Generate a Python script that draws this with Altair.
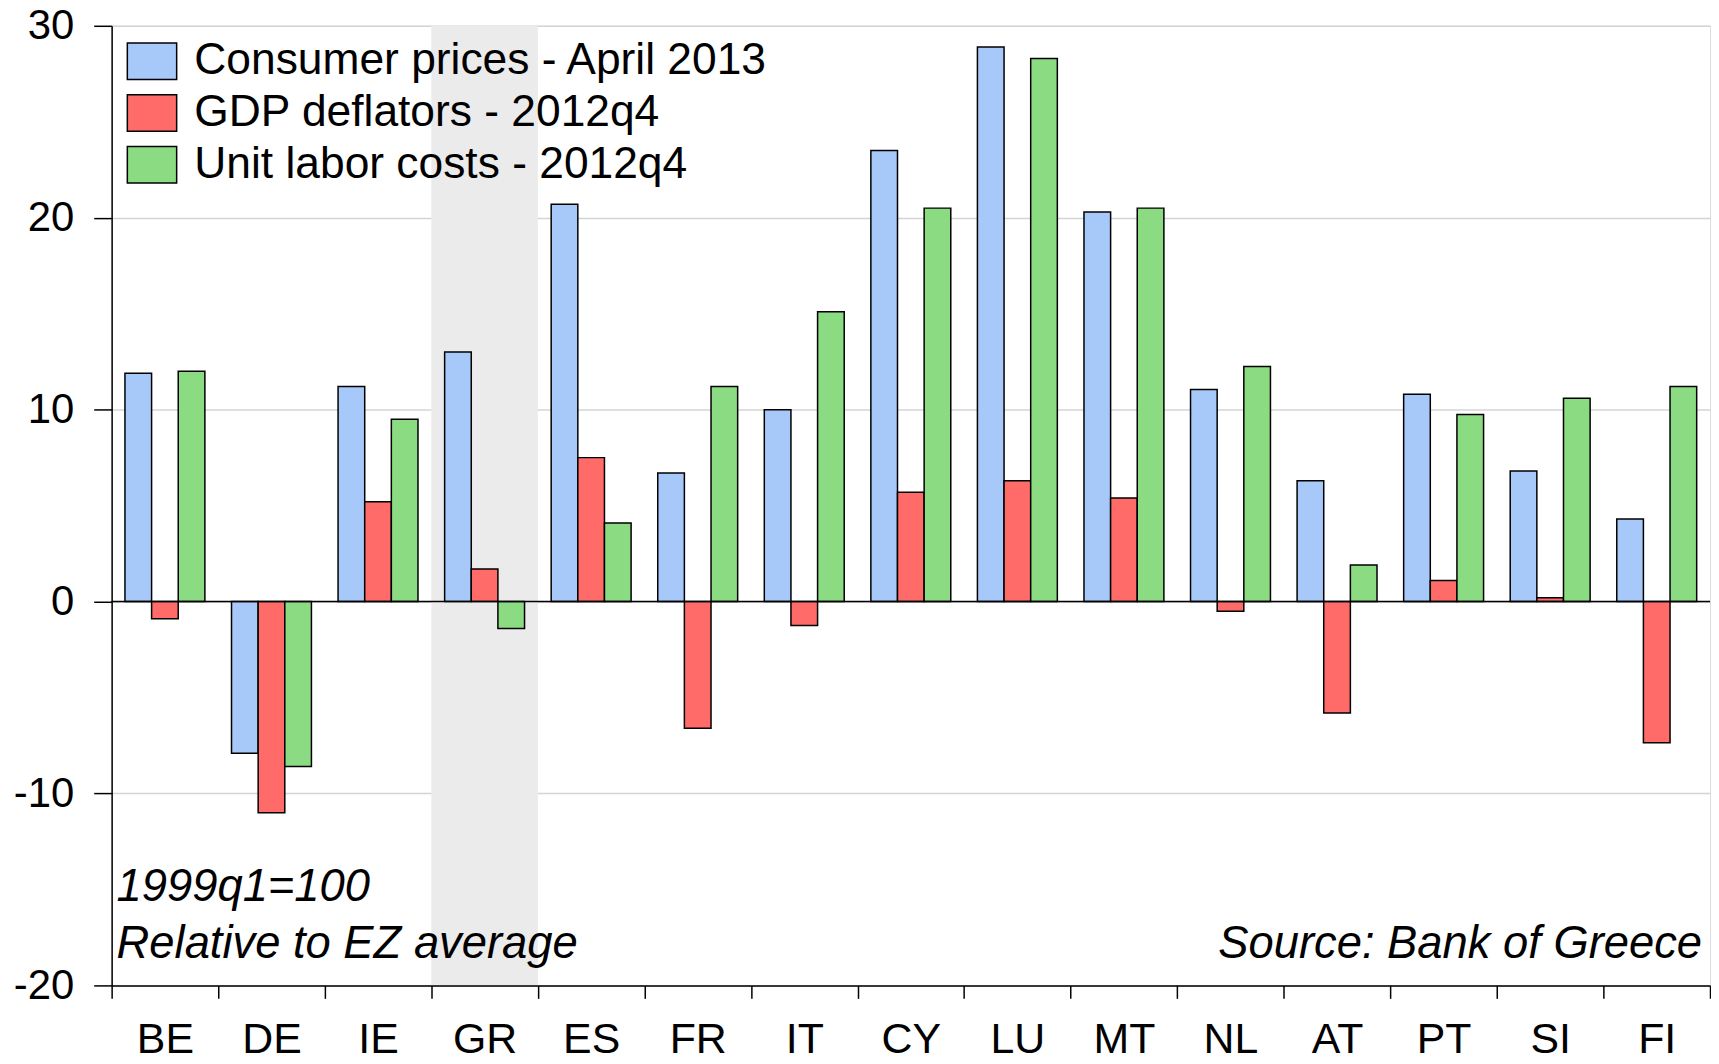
import altair as alt
import pandas as pd

countries = ["BE", "DE", "IE", "GR", "ES", "FR", "IT", "CY", "LU", "MT", "NL", "AT", "PT", "SI", "FI"]
series_names = ["Consumer prices - April 2013", "GDP deflators - 2012q4", "Unit labor costs - 2012q4"]
consumer_prices = [11.9, -7.9, 11.2, 13.0, 20.7, 6.7, 10.0, 23.5, 28.9, 20.3, 11.05, 6.3, 10.8, 6.8, 4.3]
gdp_deflators = [-0.9, -11.0, 5.2, 1.7, 7.5, -6.6, -1.25, 5.7, 6.3, 5.4, -0.5, -5.8, 1.1, 0.2, -7.35]
unit_labor_costs = [12.0, -8.6, 9.5, -1.4, 4.1, 11.2, 15.1, 20.5, 28.3, 20.5, 12.25, 1.9, 9.75, 10.6, 11.2]
colors = ["#A6C9F9", "#FF6B68", "#8ADB82"]
y_ticks = [-20, -10, 0, 10, 20, 30]

rows = []
for name, vals in zip(series_names, [consumer_prices, gdp_deflators, unit_labor_costs]):
    for c, v in zip(countries, vals):
        rows.append({"country": c, "series": name, "value": v})
df = pd.DataFrame(rows)

shade_df = pd.DataFrame({"country": ["GR"], "top": [30], "bottom": [-20]})
notes_left = pd.DataFrame({"country": ["BE", "BE"], "y": [-14.9, -17.85],
                           "label": ["1999q1=100", "Relative to EZ average"]})
notes_right = pd.DataFrame({"country": ["FI"], "y": [-17.85], "label": ["Source: Bank of Greece"]})

FONT = "Liberation Sans"

x_scale = alt.Scale(domain=countries, paddingInner=0, paddingOuter=0)
y_scale = alt.Scale(domain=[-20, 30], nice=False, zero=False)

x_axis = alt.Axis(title=None, tickBand="extent", labelAngle=0, labelFontSize=43, labelFont=FONT,
                  labelColor="#000000", tickColor="#000000", tickSize=13, tickWidth=1.5,
                  domainColor="#000000", domainWidth=1.5, labelPadding=20, grid=False)
y_axis = alt.Axis(title=None, values=y_ticks, labelExpr="toString(datum.value)",
                  labelFontSize=42, labelFont=FONT, labelColor="#000000",
                  tickColor="#000000", tickSize=18, tickWidth=1.5, domainColor="#000000",
                  domainWidth=1.5, labelPadding=20, grid=True, gridColor="#D4D4D4", gridWidth=1.5)

shade = alt.Chart(shade_df).mark_rect(color="#EBEBEB").encode(
    x=alt.X("country:N", scale=x_scale, axis=x_axis, sort=countries),
    y=alt.Y("top:Q", scale=y_scale, axis=y_axis),
    y2="bottom:Q",
)

bars = alt.Chart(df).mark_bar(stroke="#000000", strokeWidth=1.5, opacity=1).encode(
    x=alt.X("country:N", scale=x_scale, sort=countries),
    xOffset=alt.XOffset("series:N", sort=series_names,
                        scale=alt.Scale(domain=series_names, paddingInner=0, paddingOuter=0.5)),
    y=alt.Y("value:Q", scale=y_scale),
    color=alt.Color("series:N", sort=series_names,
                    scale=alt.Scale(domain=series_names, range=colors),
                    legend=alt.Legend(title=None, orient="none", legendX=15, legendY=10,
                                      labelFontSize=44.5, labelFont=FONT, labelColor="#000000",
                                      symbolType="M-1,-0.74L1,-0.74L1,0.74L-1,0.74Z",
                                      symbolSize=2450, symbolStrokeColor="#000000",
                                      symbolStrokeWidth=1.5, symbolOpacity=1,
                                      labelOffset=17, rowPadding=5, labelLimit=800)),
)

zero = alt.Chart(pd.DataFrame({"v": [0]})).mark_rule(color="#000000", strokeWidth=1.5).encode(
    y=alt.Y("v:Q", scale=y_scale)
)

left_text = alt.Chart(notes_left).mark_text(font=FONT, fontSize=45.5, fontStyle="italic", align="left",
                                            baseline="middle", dx=5, color="#000000").encode(
    x=alt.X("country:N", scale=x_scale, bandPosition=0),
    y=alt.Y("y:Q", scale=y_scale),
    text="label:N",
)
right_text = alt.Chart(notes_right).mark_text(font=FONT, fontSize=45.5, fontStyle="italic", align="right",
                                              baseline="middle", dx=-8, color="#000000").encode(
    x=alt.X("country:N", scale=x_scale, bandPosition=1),
    y=alt.Y("y:Q", scale=y_scale),
    text="label:N",
)

chart = alt.layer(shade, bars, zero, left_text, right_text).properties(
    width=1604, height=963,
    autosize=alt.AutoSizeParams(type="none"),
    padding={"left": 104, "top": 16, "right": 1, "bottom": 76},
).configure_view(stroke="#000000", strokeWidth=1.5).configure(background="#FFFFFF")

chart.save("out.html", embed_options={"renderer": "svg", "actions": False})
